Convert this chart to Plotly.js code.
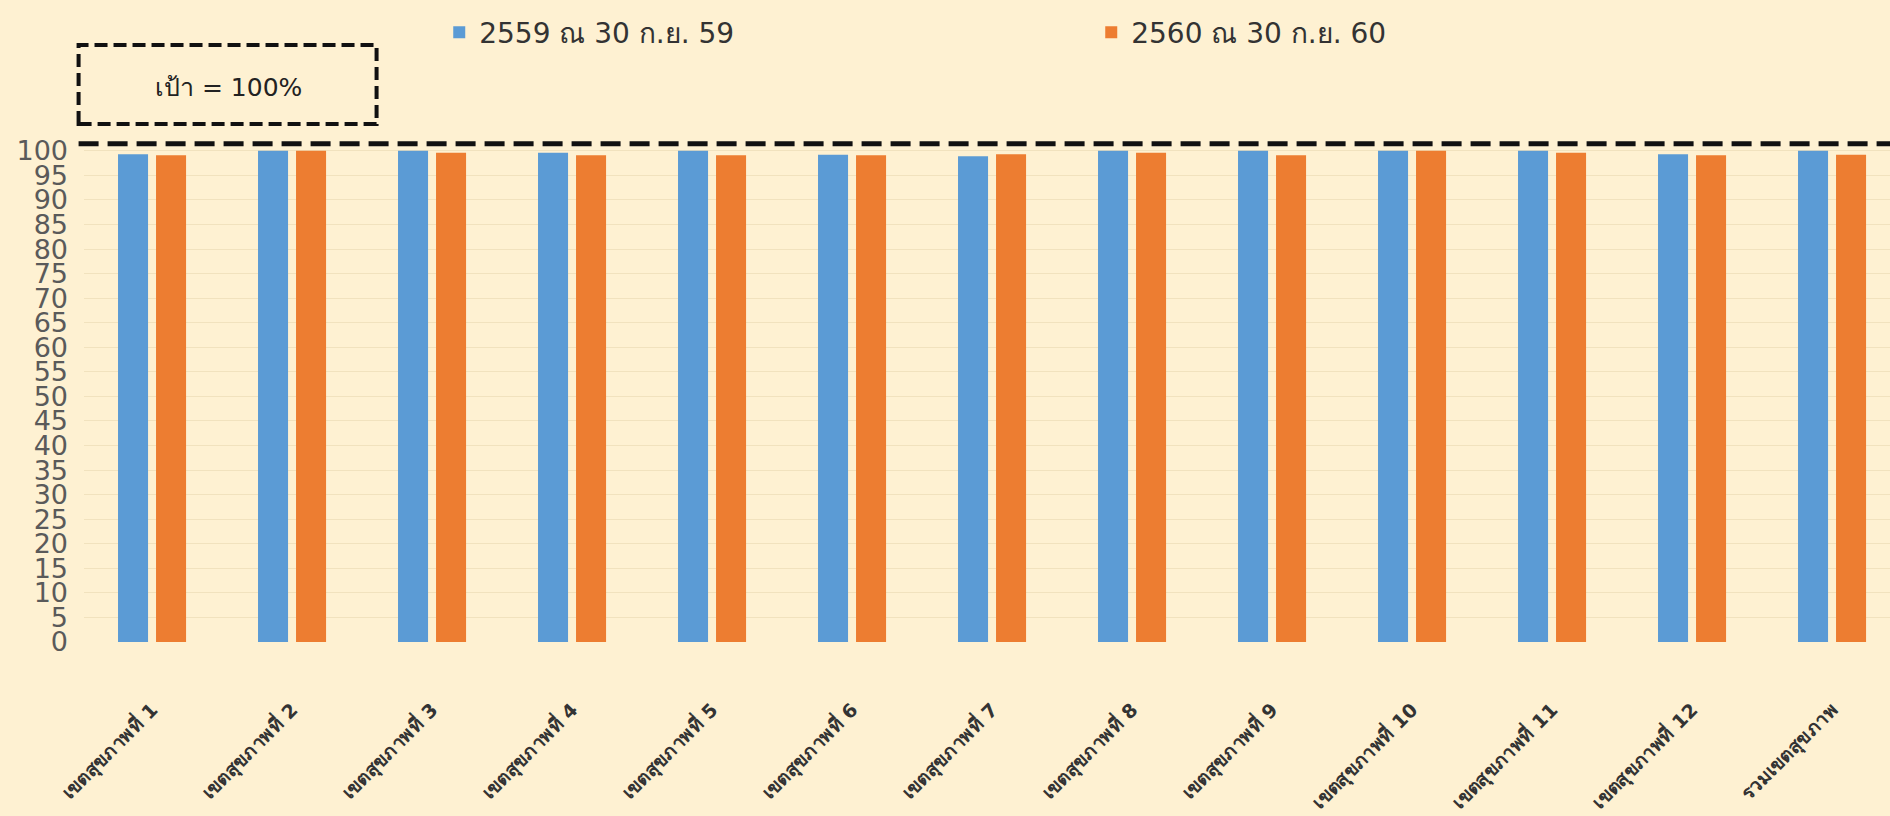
<!DOCTYPE html>
<html>
<head>
<meta charset="utf-8">
<script src="https://cdn.plot.ly/plotly-3.0.1.min.js"></script>
<style>
html,body{margin:0;padding:0;background:#FEF1D2;}
#chart{width:1890px;height:816px;}
</style>
</head>
<body>
<div id="chart"></div>
<script>
const categories = [
  "เขตสุขภาพที่ 1","เขตสุขภาพที่ 2","เขตสุขภาพที่ 3","เขตสุขภาพที่ 4",
  "เขตสุขภาพที่ 5","เขตสุขภาพที่ 6","เขตสุขภาพที่ 7","เขตสุขภาพที่ 8",
  "เขตสุขภาพที่ 9","เขตสุขภาพที่ 10","เขตสุขภาพที่ 11","เขตสุขภาพที่ 12",
  "รวมเขตสุขภาพ"
];
const series2559Name = "2559 ณ 30 ก.ย. 59";
const series2560Name = "2560 ณ 30 ก.ย. 60";
const values2559 = [99.3, 100, 100, 99.6, 100, 99.2, 98.9, 100, 100, 100, 100, 99.3, 100];
const values2560 = [99.1, 100, 99.6, 99.1, 99.1, 99.1, 99.3, 99.6, 99.1, 100, 99.6, 99.1, 99.2];
const yTickVals = [0,5,10,15,20,25,30,35,40,45,50,55,60,65,70,75,80,85,90,95,100];
const target = 100;
const targetLabel = "เป้า = 100%";

const traces = [
  {type:'bar', name:series2559Name, x:categories, y:values2559, marker:{color:'#5B9BD5'}},
  {type:'bar', name:series2560Name, x:categories, y:values2560, marker:{color:'#ED7D31'}}
];

const layout = {
  width:1890, height:816,
  paper_bgcolor:'#FEF1D2', plot_bgcolor:'#FEF1D2',
  margin:{l:84, r:0, t:141, b:174},
  barmode:'group', bargap:0.457, bargroupgap:0.21,
  font:{family:'Tahoma, "DejaVu Sans", sans-serif', color:'#333'},
  showlegend:true,
  legend:{orientation:'h', x:0.1967, xanchor:'left', y:1.2166, yanchor:'middle',
          entrywidth:607, entrywidthmode:'pixels',
          font:{size:28, color:'#333'}, bgcolor:'rgba(0,0,0,0)'},
  xaxis:{type:'category', range:[-0.486, 12.414], tickangle:-45, ticks:'',
         ticklabelstandoff:52, showline:false, showgrid:false, zeroline:false,
         tickfont:{size:19, color:'#333', weight:'bold', family:'Tahoma, "DejaVu Sans", sans-serif'}},
  yaxis:{range:[0,102], tickvals:yTickVals, ticktext:yTickVals.map(String), ticks:'',
         ticklabelstandoff:15, showline:false, zeroline:false,
         gridcolor:'#F1E2BE', gridwidth:1,
         tickfont:{size:27, color:'#5a5a5a', family:'"DejaVu Sans", sans-serif'}},
  shapes:[
    {type:'line', xref:'paper', yref:'y', x0:-0.003, x1:1, y0:7, y1:7,
     ysizemode:'pixel', yanchor:target,
     line:{color:'#111', width:5, dash:'20px,9px'}, layer:'above'},
    {type:'rect', xref:'paper', yref:'paper', x0:-0.003, x1:0.162, y0:1.034, y1:1.1916,
     line:{color:'#111', width:4, dash:'13px,6px'}, fillcolor:'rgba(0,0,0,0)'}
  ],
  annotations:[
    {xref:'paper', yref:'paper', x:0.080, y:1.106, text:targetLabel, showarrow:false,
     font:{size:25, color:'#222'}, xanchor:'center', yanchor:'middle'}
  ]
};

Plotly.newPlot('chart', traces, layout, {displayModeBar:false, staticPlot:true});
</script>
</body>
</html>
